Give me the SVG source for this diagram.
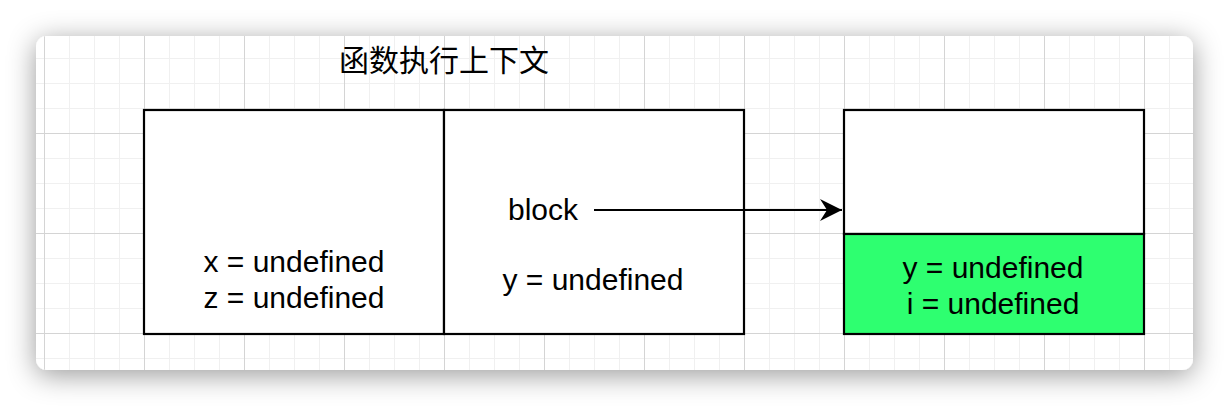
<svg xmlns="http://www.w3.org/2000/svg" width="1230" height="406" viewBox="0 0 1230 406">
  <style>
    .box { stroke: #000; stroke-width: 2.2; }
    .lbl { font-family: "Liberation Sans", Arial, sans-serif; font-size: 30px; fill: #000; text-anchor: middle; }
    .cjk { font-family: "Liberation Sans", "Noto Sans CJK SC", sans-serif; font-size: 30px; fill: #000; text-anchor: middle; }
    .conn { stroke: #000; stroke-width: 2; fill: none; }
  </style>
  <defs>
    <filter id="shadow" x="-10%" y="-40%" width="120%" height="180%">
      <feDropShadow dx="0" dy="5" stdDeviation="14" flood-color="#000" flood-opacity="0.4"/>
    </filter>
    <clipPath id="cardClip">
      <rect x="36" y="36" width="1157" height="334" rx="11"/>
    </clipPath>
    <pattern id="grid" x="44" y="33" width="100" height="100" patternUnits="userSpaceOnUse">
      <path d="M25.5 0V100M50.5 0V100M75.5 0V100M0 25.5H100M0 50.5H100M0 75.5H100" stroke="#f0f0f0" stroke-width="1" fill="none"/>
      <path d="M0.5 0V100M0 0.5H100" stroke="#d4d4d4" stroke-width="1" fill="none"/>
    </pattern>
    <marker id="arrow" markerUnits="userSpaceOnUse" markerWidth="24" markerHeight="24" refX="22" refY="12" orient="auto">
      <path d="M22 12 L0 1 L7 12 L0 23 Z" fill="#000"/>
    </marker>
  </defs>

  <rect width="1230" height="406" fill="#fff"/>
  <rect x="36" y="36" width="1157" height="334" rx="11" fill="#fff" filter="url(#shadow)"/>
  <g clip-path="url(#cardClip)">
    <rect x="36" y="36" width="1157" height="334" fill="url(#grid)"/>
  </g>

  <g id="title">
    <text class="cjk" x="444" y="71">函数执行上下文</text>
  </g>

  <g id="node-fn-vars">
    <rect class="box" x="144" y="110" width="300" height="224" fill="#fff"/>
    <text class="lbl" x="294" y="272">x = undefined</text>
    <text class="lbl" x="294" y="308">z = undefined</text>
  </g>

  <g id="node-block">
    <rect class="box" x="444" y="110" width="300" height="224" fill="#fff"/>
    <text class="lbl" x="543" y="220">block</text>
    <text class="lbl" x="593" y="290">y = undefined</text>
  </g>

  <g id="node-block-env">
    <rect class="box" x="844" y="110" width="300" height="124" fill="#fff"/>
    <rect class="box" x="844" y="234" width="300" height="100" fill="#2eff70"/>
    <text class="lbl" x="993" y="278">y = undefined</text>
    <text class="lbl" x="993" y="314">i = undefined</text>
  </g>

  <g id="connectors">
    <path class="conn" d="M594 210 H842" marker-end="url(#arrow)"/>
  </g>
</svg>
